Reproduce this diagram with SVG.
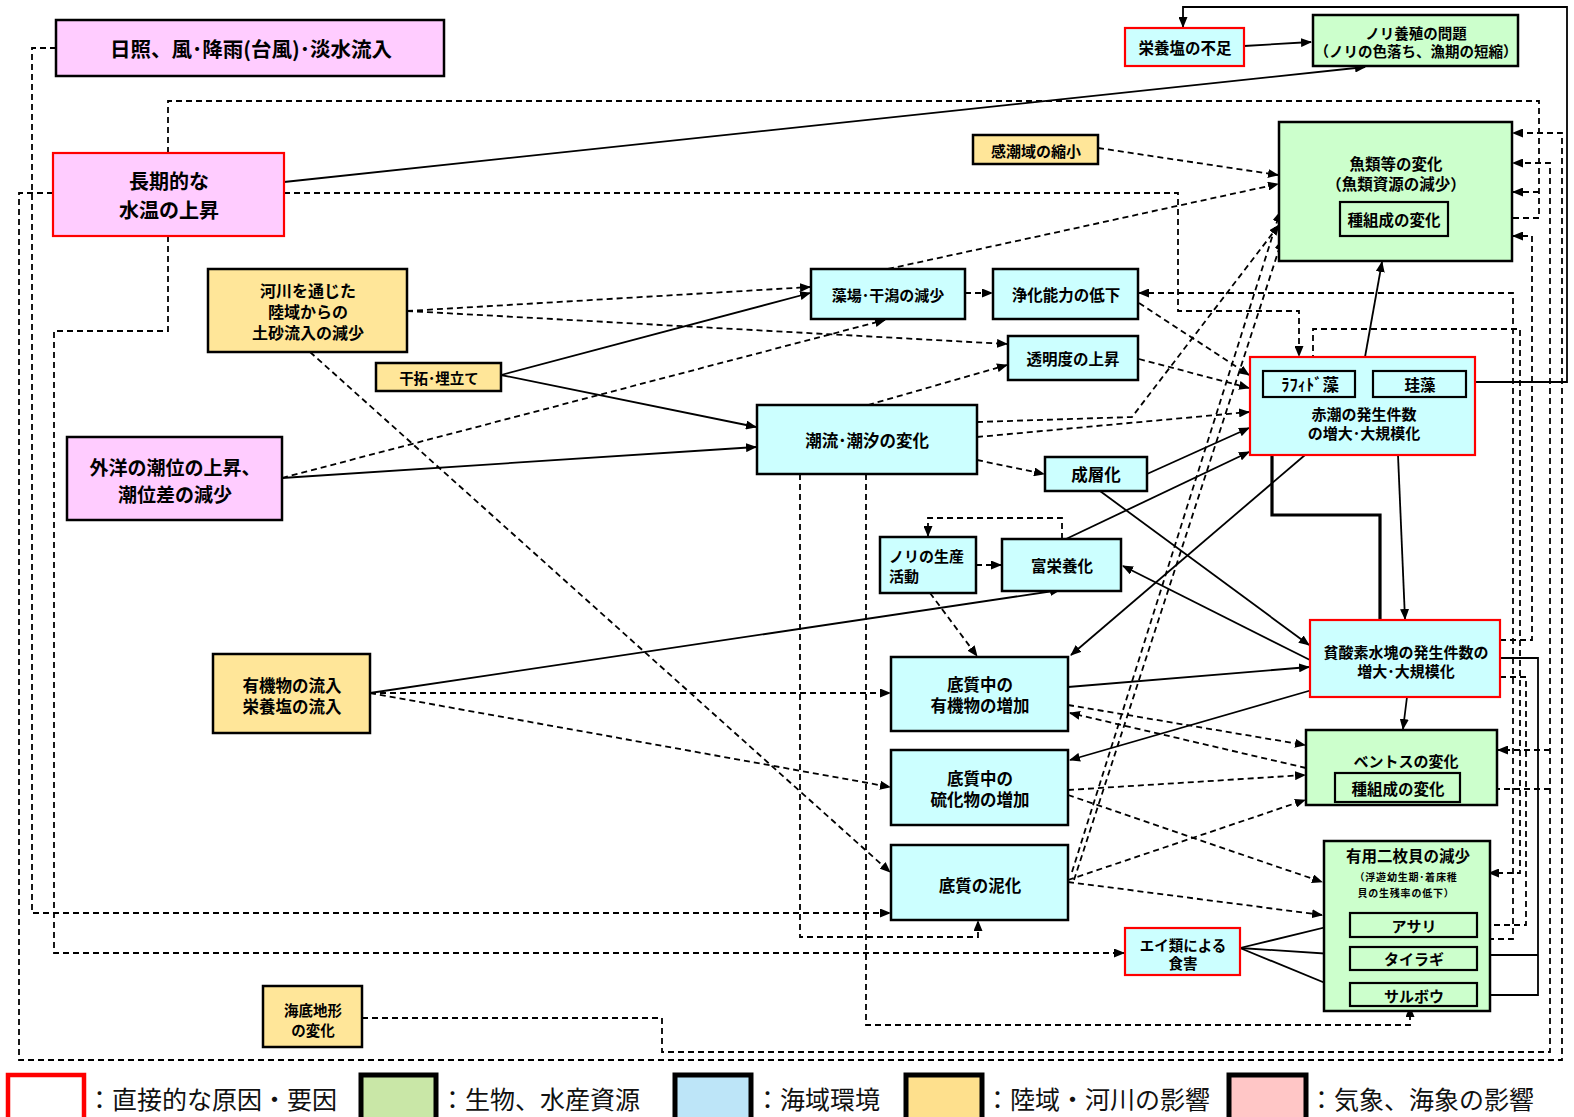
<svg xmlns="http://www.w3.org/2000/svg" width="1574" height="1117" viewBox="0 0 1574 1117">
<style>
.n rect{stroke:#000;stroke-width:2.5}
.n rect.red{stroke:#FF0000;stroke-width:2.2}
.n rect.in{stroke:#000;stroke-width:2.2}
.pk{fill:#FFCCFF}.yl{fill:#FFE699}.cy{fill:#CCFFFF}.gr{fill:#CCFFCC}
text{font-family:"Noto Sans CJK JP","Noto Sans",sans-serif;font-weight:bold;fill:#000;text-anchor:middle;dominant-baseline:central}
.c path{fill:none;stroke:#000;stroke-width:1.8}
.c .d{stroke-dasharray:6 4}
.c .t{stroke-width:3.2}
.lg text{font-weight:normal;text-anchor:start;font-size:25px;fill:#111}
</style>
<defs>
<marker id="a" markerWidth="11" markerHeight="9" refX="10" refY="4.5" orient="auto" markerUnits="userSpaceOnUse"><path d="M0,0 L11,4.5 L0,9 z" fill="#000"/></marker>
</defs>
<rect width="1574" height="1117" fill="#fff"/>
<g class="c" id="connectors">
<!-- solid -->
<path d="M284,182 L1365,67" marker-end="url(#a)"/>
<path d="M1244,46 L1311,42" marker-end="url(#a)"/>
<path d="M1466,382 L1567,382 L1567,7 L1183,7 L1183,27" marker-end="url(#a)"/>
<path d="M501,375 L810,293" marker-end="url(#a)"/>
<path d="M501,375 L756,427" marker-end="url(#a)"/>
<path d="M282,478 L756,447" marker-end="url(#a)"/>
<path d="M370,693 L1060,590" marker-end="url(#a)"/>
<path d="M1147,474 L1249,428" marker-end="url(#a)"/>
<path d="M1066,539 L1249,452" marker-end="url(#a)"/>
<path d="M1100,491 L1309,645" marker-end="url(#a)"/>
<path d="M1310,660 L1123,566" marker-end="url(#a)"/>
<path d="M1305,455 L1071,655" marker-end="url(#a)"/>
<path d="M1068,687 L1309,667" marker-end="url(#a)"/>
<path d="M1312,690 L1070,760" marker-end="url(#a)"/>
<path d="M1407,697 L1403,729" marker-end="url(#a)"/>
<path d="M1398,455 L1405,619" marker-end="url(#a)"/>
<path class="t" d="M1380,620 L1380,515 L1272,515 L1272,398" marker-end="url(#a)"/>
<path d="M1365,357 L1382,262" marker-end="url(#a)"/>
<path d="M1500,658 L1538,658 L1538,995 L1478,995" marker-end="url(#a)"/>
<path d="M1538,955 L1478,955" marker-end="url(#a)"/>
<path d="M1240,948 L1347,922" marker-end="url(#a)"/>
<path d="M1240,948 L1347,955" marker-end="url(#a)"/>
<path d="M1240,948 L1347,992" marker-end="url(#a)"/>
<!-- dashed -->
<path class="d" d="M56,48 L32,48 L32,913 L890,913" marker-end="url(#a)"/>
<path class="d" d="M168,153 L168,101 L1539,101 L1539,218 L1449,218" marker-end="url(#a)"/>
<path class="d" d="M1539,192 L1513,192" marker-end="url(#a)"/>
<path class="d" d="M53,193 L19,193 L19,1060 L1562,1060 L1562,133 L1513,133" marker-end="url(#a)"/>
<path class="d" d="M168,236 L168,331 L54,331 L54,953 L1124,953" marker-end="url(#a)"/>
<path class="d" d="M284,193 L1178,193 L1178,311 L1299,311 L1299,356" marker-end="url(#a)"/>
<path class="d" d="M407,311 L810,287" marker-end="url(#a)"/>
<path class="d" d="M407,311 L1007,344" marker-end="url(#a)"/>
<path class="d" d="M310,352 L890,872" marker-end="url(#a)"/>
<path class="d" d="M282,478 L885,320" marker-end="url(#a)"/>
<path class="d" d="M868,405 L1007,365" marker-end="url(#a)"/>
<path class="d" d="M888,269 L1278,184" marker-end="url(#a)"/>
<path class="d" d="M1098,148 L1278,175" marker-end="url(#a)"/>
<path class="d" d="M965,293 L992,293" marker-end="url(#a)"/>
<path class="d" d="M1139,303 L1249,375" marker-end="url(#a)"/>
<path class="d" d="M1139,359 L1249,388" marker-end="url(#a)"/>
<path class="d" d="M977,422 L1132,417 L1279,225" marker-end="url(#a)"/>
<path class="d" d="M977,437 L1249,412" marker-end="url(#a)"/>
<path class="d" d="M977,460 L1044,474" marker-end="url(#a)"/>
<path class="d" d="M800,474 L800,937 L978,937 L978,921" marker-end="url(#a)"/>
<path class="d" d="M866,474 L866,1025 L1410,1025 L1410,1007" marker-end="url(#a)"/>
<path class="d" d="M976,565 L1001,565" marker-end="url(#a)"/>
<path class="d" d="M1062,539 L1062,518 L928,518 L928,536" marker-end="url(#a)"/>
<path class="d" d="M930,593 L977,656" marker-end="url(#a)"/>
<path class="d" d="M370,693 L890,693" marker-end="url(#a)"/>
<path class="d" d="M370,693 L890,787" marker-end="url(#a)"/>
<path class="d" d="M1068,705 L1305,745" marker-end="url(#a)"/>
<path class="d" d="M1306,768 L1070,713" marker-end="url(#a)"/>
<path class="d" d="M1068,790 L1305,775" marker-end="url(#a)"/>
<path class="d" d="M1068,795 L1322,882" marker-end="url(#a)"/>
<path class="d" d="M1068,880 L1305,800" marker-end="url(#a)"/>
<path class="d" d="M1068,882 L1322,915" marker-end="url(#a)"/>
<path class="d" d="M1072,872 L1280,212" marker-end="url(#a)"/>
<path class="d" d="M1074,880 L1282,240" marker-end="url(#a)"/>
<path class="d" d="M1488,939 L1513,939 L1513,293 L1139,293" marker-end="url(#a)"/>
<path class="d" d="M1313,371 L1313,329 L1520,329 L1520,873 L1489,873" marker-end="url(#a)"/>
<path class="d" d="M1500,640 L1532,640 L1532,236 L1513,236" marker-end="url(#a)"/>
<path class="d" d="M1500,677 L1526,677 L1526,925 L1478,925" marker-end="url(#a)"/>
<path class="d" d="M362,1018 L662,1018 L662,1052 L1550,1052 L1550,163 L1513,163" marker-end="url(#a)"/>
<path class="d" d="M1550,789 L1461,789" marker-end="url(#a)"/>
<path class="d" d="M1550,750 L1498,750" marker-end="url(#a)"/>
</g>
<g class="n" id="n-nissho"><rect class="pk" x="56" y="20" width="388" height="56"/><text x="251" y="48" font-size="20.5">日照、風･降雨(台風)･淡水流入</text></g>
<g class="n" id="n-suion"><rect class="pk red" x="53" y="153" width="231" height="83"/><text x="169" y="180" font-size="20">長期的な</text><text x="169" y="209" font-size="20">水温の上昇</text></g>
<g class="n" id="n-kasen"><rect class="yl" x="208" y="269" width="199" height="83"/><text x="308" y="290" font-size="16">河川を通じた</text><text x="308" y="311" font-size="16">陸域からの</text><text x="308" y="332" font-size="16">土砂流入の減少</text></g>
<g class="n" id="n-kantaku"><rect class="yl" x="376" y="363" width="125" height="28"/><text x="439" y="377" font-size="14.5">干拓･埋立て</text></g>
<g class="n" id="n-gaiyo"><rect class="pk" x="67" y="437" width="215" height="83"/><text x="175" y="466" font-size="19">外洋の潮位の上昇、</text><text x="175" y="493" font-size="19">潮位差の減少</text></g>
<g class="n" id="n-yuki"><rect class="yl" x="213" y="654" width="157" height="79"/><text x="292" y="685" font-size="16.5">有機物の流入</text><text x="292" y="706" font-size="16.5">栄養塩の流入</text></g>
<g class="n" id="n-kaitei"><rect class="yl" x="263" y="986" width="99" height="61"/><text x="313" y="1009" font-size="14.5">海底地形</text><text x="313" y="1029" font-size="14.5">の変化</text></g>
<g class="n" id="n-kancho"><rect class="yl" x="973" y="135" width="125" height="29"/><text x="1036" y="150" font-size="15">感潮域の縮小</text></g>
<g class="n" id="n-eiyoen"><rect class="cy red" x="1125" y="28" width="119" height="38"/><text x="1185" y="47" font-size="15.5">栄養塩の不足</text></g>
<g class="n" id="n-nori"><rect class="gr" x="1313" y="15" width="205" height="51"/><text x="1416" y="32" font-size="14.5">ノリ養殖の問題</text><text x="1416" y="50" font-size="14.5">（ノリの色落ち、漁期の短縮）</text></g>
<g class="n" id="n-gyorui"><rect class="gr" x="1279" y="122" width="233" height="139"/><text x="1396" y="163" font-size="15.5">魚類等の変化</text><text x="1396" y="183" font-size="15.5">（魚類資源の減少）</text><rect class="gr in" x="1340" y="202" width="108" height="34"/><text x="1394" y="219" font-size="15.5">種組成の変化</text></g>
<g class="n" id="n-moba"><rect class="cy" x="811" y="269" width="154" height="50"/><text x="888" y="294" font-size="15">藻場･干潟の減少</text></g>
<g class="n" id="n-joka"><rect class="cy" x="993" y="269" width="145" height="50"/><text x="1066" y="294" font-size="15.5">浄化能力の低下</text></g>
<g class="n" id="n-tomei"><rect class="cy" x="1008" y="336" width="130" height="44"/><text x="1073" y="358" font-size="15.5">透明度の上昇</text></g>
<g class="n" id="n-choryu"><rect class="cy" x="757" y="405" width="220" height="69"/><text x="867" y="440" font-size="16.5">潮流･潮汐の変化</text></g>
<g class="n" id="n-seiso"><rect class="cy" x="1045" y="457" width="102" height="34"/><text x="1096" y="474" font-size="16.5">成層化</text></g>
<g class="n" id="n-akashio"><rect class="cy red" x="1250" y="357" width="225" height="98"/><rect class="cy in" x="1263" y="371" width="92" height="26"/><text x="1310" y="384" font-size="16.5">ﾗﾌｨﾄﾞ藻</text><rect class="cy in" x="1373" y="371" width="93" height="26"/><text x="1420" y="384" font-size="15.5">珪藻</text><text x="1364" y="413" font-size="15">赤潮の発生件数</text><text x="1364" y="432" font-size="15">の増大･大規模化</text></g>
<g class="n" id="n-norikatsu"><rect class="cy" x="880" y="537" width="96" height="56"/><text x="889" y="555" font-size="15" style="text-anchor:start">ノリの生産</text><text x="889" y="575" font-size="15" style="text-anchor:start">活動</text></g>
<g class="n" id="n-fueiyo"><rect class="cy" x="1002" y="539" width="119" height="52"/><text x="1062" y="565" font-size="15.5">富栄養化</text></g>
<g class="n" id="n-teiyuki"><rect class="cy" x="891" y="657" width="177" height="74"/><text x="980" y="684" font-size="16.5">底質中の</text><text x="980" y="705" font-size="16.5">有機物の増加</text></g>
<g class="n" id="n-ryuka"><rect class="cy" x="891" y="750" width="177" height="75"/><text x="980" y="778" font-size="16.5">底質中の</text><text x="980" y="799" font-size="16.5">硫化物の増加</text></g>
<g class="n" id="n-deika"><rect class="cy" x="891" y="845" width="177" height="75"/><text x="980" y="885" font-size="16.5">底質の泥化</text></g>
<g class="n" id="n-hinsanso"><rect class="cy red" x="1310" y="620" width="190" height="77"/><text x="1406" y="651" font-size="15">貧酸素水塊の発生件数の</text><text x="1406" y="670" font-size="15">増大･大規模化</text></g>
<g class="n" id="n-benthos"><rect class="gr" x="1306" y="730" width="191" height="75"/><text x="1406" y="760" font-size="15">ベントスの変化</text><rect class="gr in" x="1335" y="773" width="125" height="29"/><text x="1398" y="788" font-size="15.5">種組成の変化</text></g>
<g class="n" id="n-ei"><rect class="cy red" x="1125" y="928" width="115" height="47"/><text x="1183" y="944" font-size="14.5">エイ類による</text><text x="1183" y="962" font-size="14.5">食害</text></g>
<g class="n" id="n-nimaigai"><rect class="gr" x="1324" y="841" width="166" height="170"/><text x="1408" y="855" font-size="15.5">有用二枚貝の減少</text><text x="1406" y="876" font-size="10" letter-spacing="0.8">（浮遊幼生期･着床稚</text><text x="1406" y="892" font-size="10" letter-spacing="0.8">貝の生残率の低下）</text><rect class="gr in" x="1350" y="913" width="127" height="24"/><text x="1414" y="925" font-size="15">アサリ</text><rect class="gr in" x="1350" y="947" width="127" height="23"/><text x="1414" y="958" font-size="15">タイラギ</text><rect class="gr in" x="1350" y="983" width="127" height="23"/><text x="1414" y="995" font-size="15">サルボウ</text></g>
<g class="lg" id="legend">
<rect x="8" y="1075" width="76" height="46" fill="#fff" stroke="#FF0000" stroke-width="4.5"/>
<text x="87" y="1098">：直接的な原因・要因</text>
<rect x="361" y="1075" width="75" height="46" fill="#C9E7A7" stroke="#000" stroke-width="5"/>
<text x="440" y="1098">：生物、水産資源</text>
<rect x="675" y="1075" width="76" height="46" fill="#BDE5F8" stroke="#000" stroke-width="5"/>
<text x="755" y="1098">：海域環境</text>
<rect x="906" y="1075" width="76" height="46" fill="#FEE08D" stroke="#000" stroke-width="5"/>
<text x="985" y="1098">：陸域・河川の影響</text>
<rect x="1229" y="1075" width="77" height="46" fill="#FFC6C6" stroke="#000" stroke-width="5"/>
<text x="1309" y="1098">：気象、海象の影響</text>
</g>
</svg>
